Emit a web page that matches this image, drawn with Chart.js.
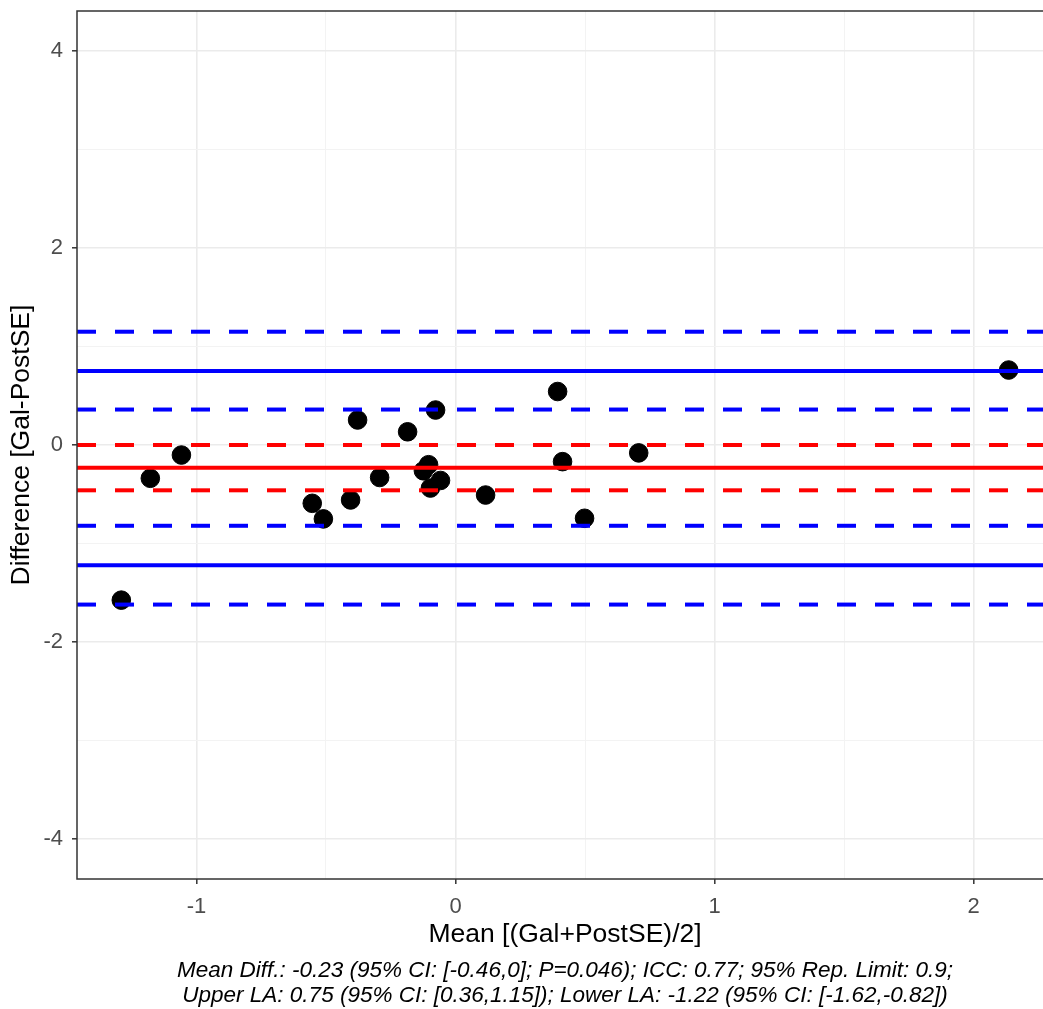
<!DOCTYPE html>
<html>
<head>
<meta charset="utf-8">
<script src="https://cdn.jsdelivr.net/npm/chart.js@4.4.1/dist/chart.umd.min.js"></script>
<style>
  html, body { margin: 0; padding: 0; background: #fff; overflow: hidden; }
  #wrap { position: relative; width: 1065px; height: 1009px; }
</style>
</head>
<body>
<div id="wrap"><canvas id="chart"></canvas></div>
<script>
// Mean [(Gal+PostSE)/2] and Difference [Gal-PostSE] per subject
const meanVals = [-1.29, -1.178, -1.058, -0.553, -0.51, -0.378, -0.405, -0.293, -0.185, -0.077,
  -0.124, -0.104, -0.097, -0.058, 0.116, 0.394, 0.413, 0.498, 0.707, 2.135];
const diffVals = [-1.575, -0.338, -0.102, -0.592, -0.75, 0.254, -0.558, -0.33, 0.134, 0.355,
  -0.262, -0.2, -0.437, -0.36, -0.508, 0.543, -0.169, -0.744, -0.08, 0.761];

// reference lines: mean diff with CI, limits of agreement with CI
const meanLine = [-0.23];
const meanCI = [0, -0.46];
const limitLines = [0.75, -1.22];
const limitCI = [1.15, 0.36, -0.82, -1.62];

const xMajorTicks = [-1, 0, 1, 2];
const xMinorTicks = [-0.5, 0.5, 1.5];
const yMajorTicks = [-4, -2, 0, 2, 4];
const yMinorTicks = [-3, -1, 1, 3];
const xRange = [-1.461, 2.306];
const yRange = [-4.406, 4.406];

const footerLines = [
  "Mean Diff.: -0.23 (95% CI: [-0.46,0]; P=0.046); ICC: 0.77; 95% Rep. Limit: 0.9;",
  "Upper LA: 0.75 (95% CI: [0.36,1.15]); Lower LA: -1.22 (95% CI: [-1.62,-0.82])"
];

const FONT = "'Liberation Sans', Arial, sans-serif";
const BLUE = "#0000ff";
const RED = "#ff0000";

function hLine(y, color, dashed) {
  return {
    type: "line",
    data: [{ x: xRange[0], y: y }, { x: xRange[1], y: y }],
    borderColor: color,
    borderWidth: 4,
    borderDash: dashed ? [19, 19] : [],
    pointRadius: 0,
    fill: false
  };
}

const datasets = [];
limitCI.forEach(v => datasets.push(hLine(v, BLUE, true)));
limitLines.forEach(v => datasets.push(hLine(v, BLUE, false)));
meanCI.forEach(v => datasets.push(hLine(v, RED, true)));
meanLine.forEach(v => datasets.push(hLine(v, RED, false)));
datasets.push({
  type: "scatter",
  data: meanVals.map((m, i) => ({ x: m, y: diffVals[i] })),
  backgroundColor: "#000",
  borderColor: "#000",
  pointRadius: 9.3,
  pointHoverRadius: 9.3
});

function isMajor(list, v) {
  return list.some(t => Math.abs(t - v) < 1e-9);
}

const panelBorder = {
  id: "panelBorder",
  afterDatasetsDraw(chart) {
    const a = chart.chartArea;
    const ctx = chart.ctx;
    ctx.save();
    ctx.strokeStyle = "#333333";
    ctx.lineWidth = 1.5;
    ctx.strokeRect(a.left, a.top, a.right - a.left, a.bottom - a.top);
    ctx.restore();
  }
};

const footer = {
  id: "footer",
  afterDraw(chart) {
    const a = chart.chartArea;
    const ctx = chart.ctx;
    ctx.save();
    ctx.fillStyle = "#000";
    ctx.font = "italic 22.5px " + FONT;
    ctx.textAlign = "center";
    ctx.textBaseline = "middle";
    const cx = (a.left + a.right) / 2;
    ctx.fillText(footerLines[0], cx, 971);
    ctx.fillText(footerLines[1], cx, 996);
    ctx.restore();
  }
};

function axis(range, major, minor, title, horizontal) {
  return {
    type: "linear",
    min: range[0],
    max: range[1],
    afterBuildTicks: scale => {
      scale.ticks = major.concat(minor).sort((a, b) => a - b).map(v => ({ value: v }));
    },
    afterFit: scale => {
      if (horizontal) {
        scale.height = 72;
        scale.paddingLeft = 0;
        scale.paddingRight = 0;
      } else {
        scale.width = 77;
        scale.paddingTop = 0;
        scale.paddingBottom = 0;
      }
    },
    ticks: {
      color: "#4d4d4d",
      font: { family: FONT, size: 22 },
      padding: horizontal ? 10 : 9,
      autoSkip: false,
      maxRotation: 0,
      callback: v => isMajor(major, v) ? String(v) : ""
    },
    grid: {
      color: c => isMajor(major, c.tick.value) ? "#ebebeb" : "#f3f3f3",
      lineWidth: c => isMajor(major, c.tick.value) ? 1.6 : 1,
      tickColor: c => isMajor(major, c.tick.value) ? "#333333" : "rgba(0,0,0,0)",
      tickLength: 5,
      tickWidth: 1.5
    },
    border: { display: false },
    title: {
      display: true,
      text: title,
      color: "#000",
      font: { family: FONT, size: 26.5 },
      padding: horizontal ? { top: 0, bottom: 0 } : { top: 6, bottom: 0 }
    }
  };
}

new Chart(document.getElementById("chart"), {
  data: { datasets: datasets },
  options: {
    responsive: true,
    maintainAspectRatio: false,
    animation: false,
    layout: { padding: { top: 11, right: 12, left: 0, bottom: 58 } },
    plugins: { legend: { display: false }, tooltip: { enabled: false } },
    scales: {
      x: axis(xRange, xMajorTicks, xMinorTicks, "Mean [(Gal+PostSE)/2]", true),
      y: axis(yRange, yMajorTicks, yMinorTicks, "Difference [Gal-PostSE]", false)
    }
  },
  plugins: [panelBorder, footer]
});
</script>
</body>
</html>
